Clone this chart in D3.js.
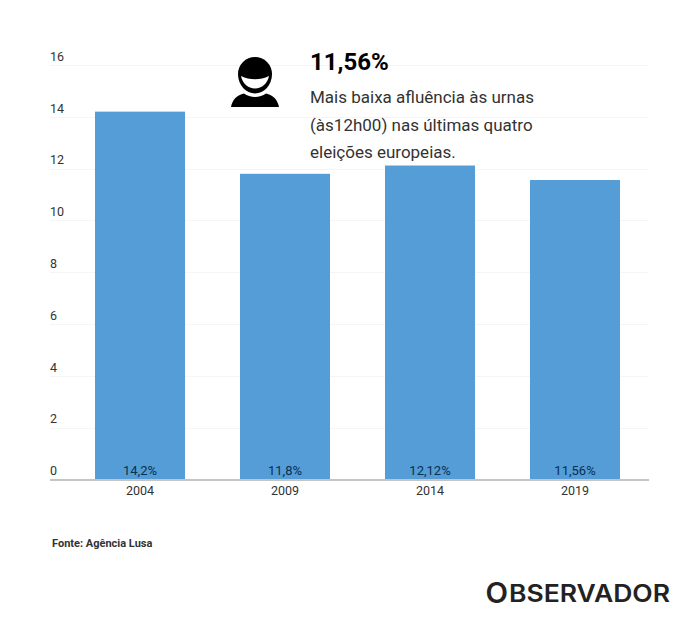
<!DOCTYPE html>
<html>
<head>
<meta charset="utf-8">
<script src="https://cdn.jsdelivr.net/npm/d3@7"></script>
<style>
html, body { margin: 0; padding: 0; background: #fff; }
svg { display: block; font-family: Roboto, sans-serif; }
</style>
</head>
<body>
<svg width="700" height="622"></svg>
<script>
var years = ["2004", "2009", "2014", "2019"];
var values = [14.2, 11.8, 12.12, 11.56];
var valueLabels = ["14,2%", "11,8%", "12,12%", "11,56%"];
var yTicks = [0, 2, 4, 6, 8, 10, 12, 14, 16];
var noteLines = ["Mais baixa afluência às urnas", "(às12h00) nas últimas quatro", "eleições europeias."];

var svg = d3.select("svg");

var x = d3.scaleBand()
    .domain(years)
    .range([95, 620])
    .paddingInner(55 / 145)
    .paddingOuter(0);

var y = d3.scaleLinear()
    .domain([0, 16])
    .range([479.5, 65]);

// faint gridlines, labels sit above the line on the left
svg.append("g")
    .selectAll("line")
    .data(yTicks.filter(d => d > 0))
    .join("line")
    .attr("x1", 50)
    .attr("x2", 649)
    .attr("y1", d => Math.round(y(d)) + 0.5)
    .attr("y2", d => Math.round(y(d)) + 0.5)
    .attr("stroke", "#f5f5f5");

svg.append("g")
    .selectAll("text")
    .data(yTicks)
    .join("text")
    .attr("x", 50)
    .attr("y", d => y(d) - 4.2)
    .attr("font-size", 12.5)
    .attr("fill", "#333")
    .text(d => d);

svg.append("g")
    .selectAll("rect")
    .data(years)
    .join("rect")
    .attr("x", d => x(d))
    .attr("width", x.bandwidth())
    .attr("y", (d, i) => y(values[i]))
    .attr("height", (d, i) => y(0) - y(values[i]))
    .attr("fill", "#559dd6");

svg.append("g")
    .selectAll("text")
    .data(years)
    .join("text")
    .attr("x", d => x(d) + x.bandwidth() / 2)
    .attr("y", 475)
    .attr("text-anchor", "middle")
    .attr("font-size", 13)
    .attr("fill", "#0b2f52")
    .text((d, i) => valueLabels[i]);

// x axis
var xAxis = svg.append("g")
    .attr("transform", "translate(0,480)")
    .call(d3.axisBottom(x).tickSize(0).tickPadding(6));
xAxis.select(".domain").remove();
xAxis.selectAll("text")
    .attr("font-family", "Roboto, sans-serif")
    .attr("font-size", 12.5)
    .attr("fill", "#333");
svg.append("line")
    .attr("x1", 50)
    .attr("x2", 649)
    .attr("y1", 480)
    .attr("y2", 480)
    .attr("stroke", "#c4c4c4")
    .attr("stroke-width", 2);

// person icon
var icon = svg.append("g").attr("fill", "#000");
icon.append("path")
    .attr("d", "M255 57a17 17 0 0 1 17 17c0 11-8 19.500-17 19.500s-17-8.500-17-19.500A17 17 0 0 1 255 57z");
icon.append("path")
    .attr("fill", "#fff")
    .attr("d", "M241 76c4.500 2.200 9 3.200 14 3.200s9.500-1 14-3.200c-1.500 7.500-7 12.500-14 12.500s-12.500-5-14-12.500z");
icon.append("path")
    .attr("d", "M231 107c1.500-7.500 6-12 13-13.500 3 2.300 7 3.500 11 3.500s8-1.200 11-3.500c7 1.500 11.500 6 13 13.500z");

svg.append("text")
    .attr("x", 310)
    .attr("y", 70)
    .attr("font-size", 24)
    .attr("font-weight", 700)
    .attr("fill", "#000")
    .text("11,56%");

svg.append("g")
    .selectAll("text")
    .data(noteLines)
    .join("text")
    .attr("x", 310)
    .attr("y", (d, i) => 103 + i * 27.5)
    .attr("font-size", 17)
    .attr("fill", "#333")
    .text(d => d);

svg.append("text")
    .attr("x", 52)
    .attr("y", 547)
    .attr("font-size", 11)
    .attr("font-weight", 700)
    .attr("fill", "#333")
    .text("Fonte: Agência Lusa");

// logo wordmark, big O set apart from the rest
svg.append("text")
    .attr("x", 485.5)
    .attr("y", 603)
    .attr("font-family", "Inter, sans-serif")
    .attr("font-weight", 600)
    .attr("font-size", 28.500)
    .attr("textLength", 22.5)
    .attr("lengthAdjust", "spacingAndGlyphs")
    .attr("fill", "#222")
    .text("O");
svg.append("text")
    .attr("x", 509)
    .attr("y", 602)
    .attr("font-family", "Inter, sans-serif")
    .attr("font-weight", 600)
    .attr("font-size", 24)
    .attr("textLength", 161)
    .attr("lengthAdjust", "spacingAndGlyphs")
    .attr("fill", "#222")
    .text("BSERVADOR");
</script>
</body>
</html>
